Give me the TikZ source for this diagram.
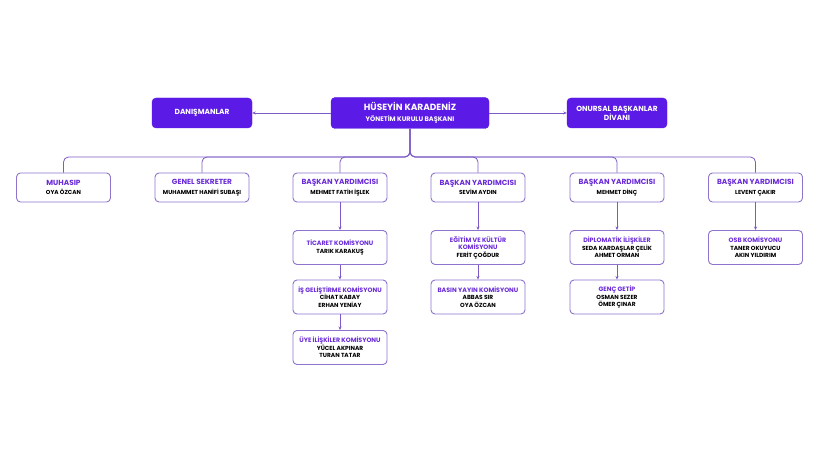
\documentclass[tikz,border=0pt]{standalone}
\usepackage{fontspec}
\setmainfont{Poppins}
\usetikzlibrary{arrows.meta}
\definecolor{pfill}{RGB}{91,26,230}
\definecolor{ptext}{RGB}{106,43,217}
\definecolor{pline}{RGB}{125,91,198}
\definecolor{pborder}{RGB}{142,116,204}
\newcommand{\tophead}[1]{{\fontsize{9}{10}\selectfont\bfseries #1}}
\newcommand{\topsub}[1]{{\fontsize{6.6}{7}\selectfont\bfseries #1}}
\newcommand{\sidetext}[1]{{\fontsize{7.4}{8}\selectfont\bfseries #1}}
\newcommand{\rowtitle}[1]{{\color{ptext}\fontsize{7.4}{8}\selectfont\bfseries #1}}
\newcommand{\rowname}[1]{{\fontsize{5.8}{6.5}\selectfont\bfseries #1}}
\newcommand{\comtitle}[1]{{\color{ptext}\fontsize{6.3}{7}\selectfont\bfseries #1}}
\newcommand{\comname}[1]{{\fontsize{5.9}{7}\selectfont\bfseries #1}}
\tikzset{
  topbox/.style={draw=pfill, fill=pfill, text=white, rounded corners=4pt, align=center, inner sep=0pt, minimum height=31pt, font=\fontsize{8}{10.5}\selectfont},
  rowbox/.style={draw=pborder, line width=0.9pt, fill=white, rounded corners=4pt, align=center, inner sep=0pt, minimum width=94pt, minimum height=29pt, font=\fontsize{6}{9.6}\selectfont},
  combox/.style={draw=pborder, line width=0.9pt, fill=white, rounded corners=4pt, align=center, inner sep=0pt, minimum width=94pt, minimum height=34pt, font=\fontsize{6}{7.4}\selectfont},
  conn/.style={draw=pline, line width=0.8pt, rounded corners=5pt},
  arr/.style={conn, -{Stealth[length=3.5pt,width=3pt]}}
}
\begin{document}
\begin{tikzpicture}[x=1pt,y=-1pt]
\useasboundingbox[fill=white] (0,0) rectangle (820,462);
% top row
\node[topbox, minimum width=158pt] (pres) at (410,113) {\tophead{HÜSEYİN KARADENİZ}\\\topsub{YÖNETİM KURULU BAŞKANI}};
\node[topbox, minimum width=100pt, minimum height=30pt] (dan) at (202,113) {\sidetext{DANIŞMANLAR}};
\node[topbox, minimum width=100pt, minimum height=30pt, font=\fontsize{7}{9}\selectfont] (onr) at (617,113) {\sidetext{ONURSAL BAŞKANLAR}\\\sidetext{DİVANI}};
\draw[arr] (pres.west) -- (dan.east);
\draw[arr] (pres.east) -- (onr.west);
% second row
\coordinate (bus) at (0,157);
\node[rowbox] (muh) at (63.5,187.5) {\rowtitle{MUHASIP}\\\rowname{OYA ÖZCAN}};
\node[rowbox] (gen) at (202,187.5) {\rowtitle{GENEL SEKRETER}\\\rowname{MUHAMMET HANİFİ SUBAŞI}};
\node[rowbox] (by1) at (340,187.5) {\rowtitle{BAŞKAN YARDIMCISI}\\\rowname{MEHMET FATİH İŞLEK}};
\node[rowbox] (by2) at (478,187.5) {\rowtitle{BAŞKAN YARDIMCISI}\\\rowname{SEVİM AYDIN}};
\node[rowbox] (by3) at (617,187.5) {\rowtitle{BAŞKAN YARDIMCISI}\\\rowname{MEHMET DİNÇ}};
\node[rowbox] (by4) at (755.5,187.5) {\rowtitle{BAŞKAN YARDIMCISI}\\\rowname{LEVENT ÇAKIR}};
\foreach \c in {muh,gen,by1,by2,by3,by4}{
  \draw[conn] (pres.south) -- (pres.south |- bus) -| (\c.north);
}
% third row
\node[combox, font=\fontsize{6}{8.5}\selectfont] (tic) at (340,247.5) {\comtitle{TİCARET KOMİSYONU}\\\comname{TARIK KARAKUŞ}};
\node[combox] (isg) at (340,297) {\comtitle{İŞ GELİŞTİRME KOMİSYONU}\\\comname{CİHAT KABAY}\\\comname{ERHAN YENİAY}};
\node[combox] (uye) at (340,347.5) {\comtitle{ÜYE İLİŞKİLER KOMİSYONU}\\\comname{YÜCEL AKPINAR}\\\comname{TURAN TATAR}};
\node[combox] (egi) at (478,247.5) {\comtitle{EĞİTİM VE KÜLTÜR}\\\comtitle{KOMİSYONU}\\\comname{FERİT ÇOĞDUR}};
\node[combox] (bas) at (478,297) {\comtitle{BASIN YAYIN KOMİSYONU}\\\comname{ABBAS SIR}\\\comname{OYA ÖZCAN}};
\node[combox] (dip) at (617,247.5) {\comtitle{DİPLOMATİK İLİŞKİLER}\\\comname{SEDA KARDAŞLAR ÇELİK}\\\comname{AHMET ORMAN}};
\node[combox] (gnc) at (617,297) {\comtitle{GENÇ GETİP}\\\comname{OSMAN SEZER}\\\comname{ÖMER ÇINAR}};
\node[combox] (osb) at (755.5,247.5) {\comtitle{OSB KOMİSYONU}\\\comname{TANER OKUYUCU}\\\comname{AKIN YILDIRIM}};
\draw[arr] (by1.south) -- (tic.north);
\draw[arr] (tic.south) -- (isg.north);
\draw[arr] (isg.south) -- (uye.north);
\draw[arr] (by2.south) -- (egi.north);
\draw[arr] (egi.south) -- (bas.north);
\draw[arr] (by3.south) -- (dip.north);
\draw[arr] (dip.south) -- (gnc.north);
\draw[arr] (by4.south) -- (osb.north);
\end{tikzpicture}
\end{document}
